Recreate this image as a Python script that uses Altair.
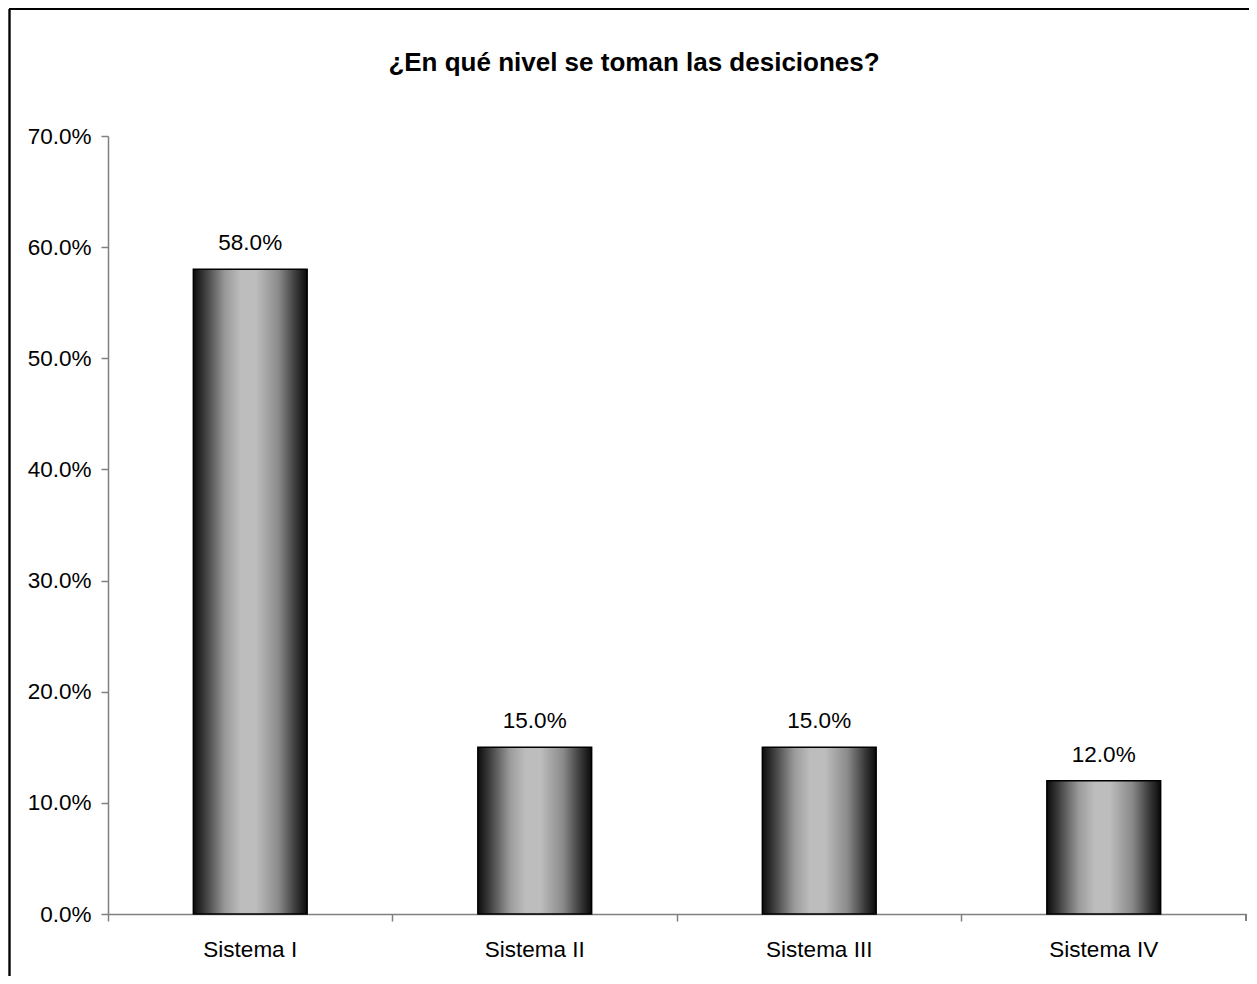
import altair as alt
import pandas as pd

categories = ["Sistema I", "Sistema II", "Sistema III", "Sistema IV"]
values = [0.58, 0.15, 0.15, 0.12]
y_ticks = [0.0, 0.1, 0.2, 0.3, 0.4, 0.5, 0.6, 0.7]
title_text = "¿En qué nivel se toman las desiciones?"

df = pd.DataFrame({"cat": categories, "val": values})
tdf = pd.DataFrame({"t": [title_text]})

W, H = 1138, 778
FONT = "Liberation Sans"
FS = 22.5

grad = alt.Gradient(
    gradient="linear", x1=0, x2=1, y1=0, y2=0,
    stops=[
        alt.GradientStop(color="#0c0c0c", offset=0.0),
        alt.GradientStop(color="#3c3c3c", offset=0.1),
        alt.GradientStop(color="#9a9a9a", offset=0.28),
        alt.GradientStop(color="#bdbdbd", offset=0.42),
        alt.GradientStop(color="#bdbdbd", offset=0.55),
        alt.GradientStop(color="#8a8a8a", offset=0.75),
        alt.GradientStop(color="#3a3a3a", offset=0.9),
        alt.GradientStop(color="#0a0a0a", offset=1.0),
    ],
)

x = alt.X("cat:N", sort=categories, title=None,
          scale=alt.Scale(paddingInner=0, paddingOuter=0),
          axis=alt.Axis(bandPosition=0, labelAngle=0, labelFont=FONT,
                        labelFontSize=FS, labelColor="#000", labelPadding=17,
                        tickSize=7, tickColor="#808080", domainColor="#808080",
                        domainWidth=1.5, tickWidth=1.5, labelBaseline="top"))
y = alt.Y("val:Q", title=None,
          scale=alt.Scale(domain=[0, 0.7], nice=False),
          axis=alt.Axis(values=y_ticks, format=".1%", labelFont=FONT,
                        labelFontSize=FS, labelColor="#000", labelPadding=10,
                        tickSize=7, tickColor="#808080", domainColor="#808080",
                        domainWidth=1.5, tickWidth=1.5, grid=False))

bars = alt.Chart(df).mark_bar(
    width=alt.RelativeBandSize(0.4), fill=grad, stroke="#000", strokeWidth=1.5
).encode(x=x, y=y)

labels = alt.Chart(df).mark_text(
    baseline="bottom", dy=-14, font=FONT, fontSize=FS, color="#000"
).encode(x=alt.X("cat:N", sort=categories), y="val:Q",
         text=alt.Text("val:Q", format=".1%"))

title = alt.Chart(tdf).mark_text(
    font=FONT, fontSize=26, fontWeight="bold", color="#000",
    align="center", baseline="alphabetic"
).encode(x=alt.value(526), y=alt.value(-65), text="t:N")

end_tick = alt.Chart(df).mark_rule(color="#808080", strokeWidth=1.5).encode(
    x=alt.value(W), y=alt.value(H), y2=alt.value(H + 7))

left_border = alt.Chart(df).mark_rule(color="#000", strokeWidth=1.5).encode(
    x=alt.value(-98.5), y=alt.value(-127), y2=alt.value(H + 80))
top_border = alt.Chart(df).mark_rule(color="#000", strokeWidth=1.5).encode(
    x=alt.value(-99), x2=alt.value(W + 10), y=alt.value(-127))

chart = alt.layer(bars, labels, title, end_tick, left_border, top_border).properties(
    width=W, height=H,
    autosize=alt.AutoSizeParams(type="none"),
    padding={"left": 100, "top": 128, "right": 3, "bottom": 62},
).configure(background="white").configure_view(stroke=None)

chart.save("out.html", embed_options={"renderer": "svg", "actions": False})
